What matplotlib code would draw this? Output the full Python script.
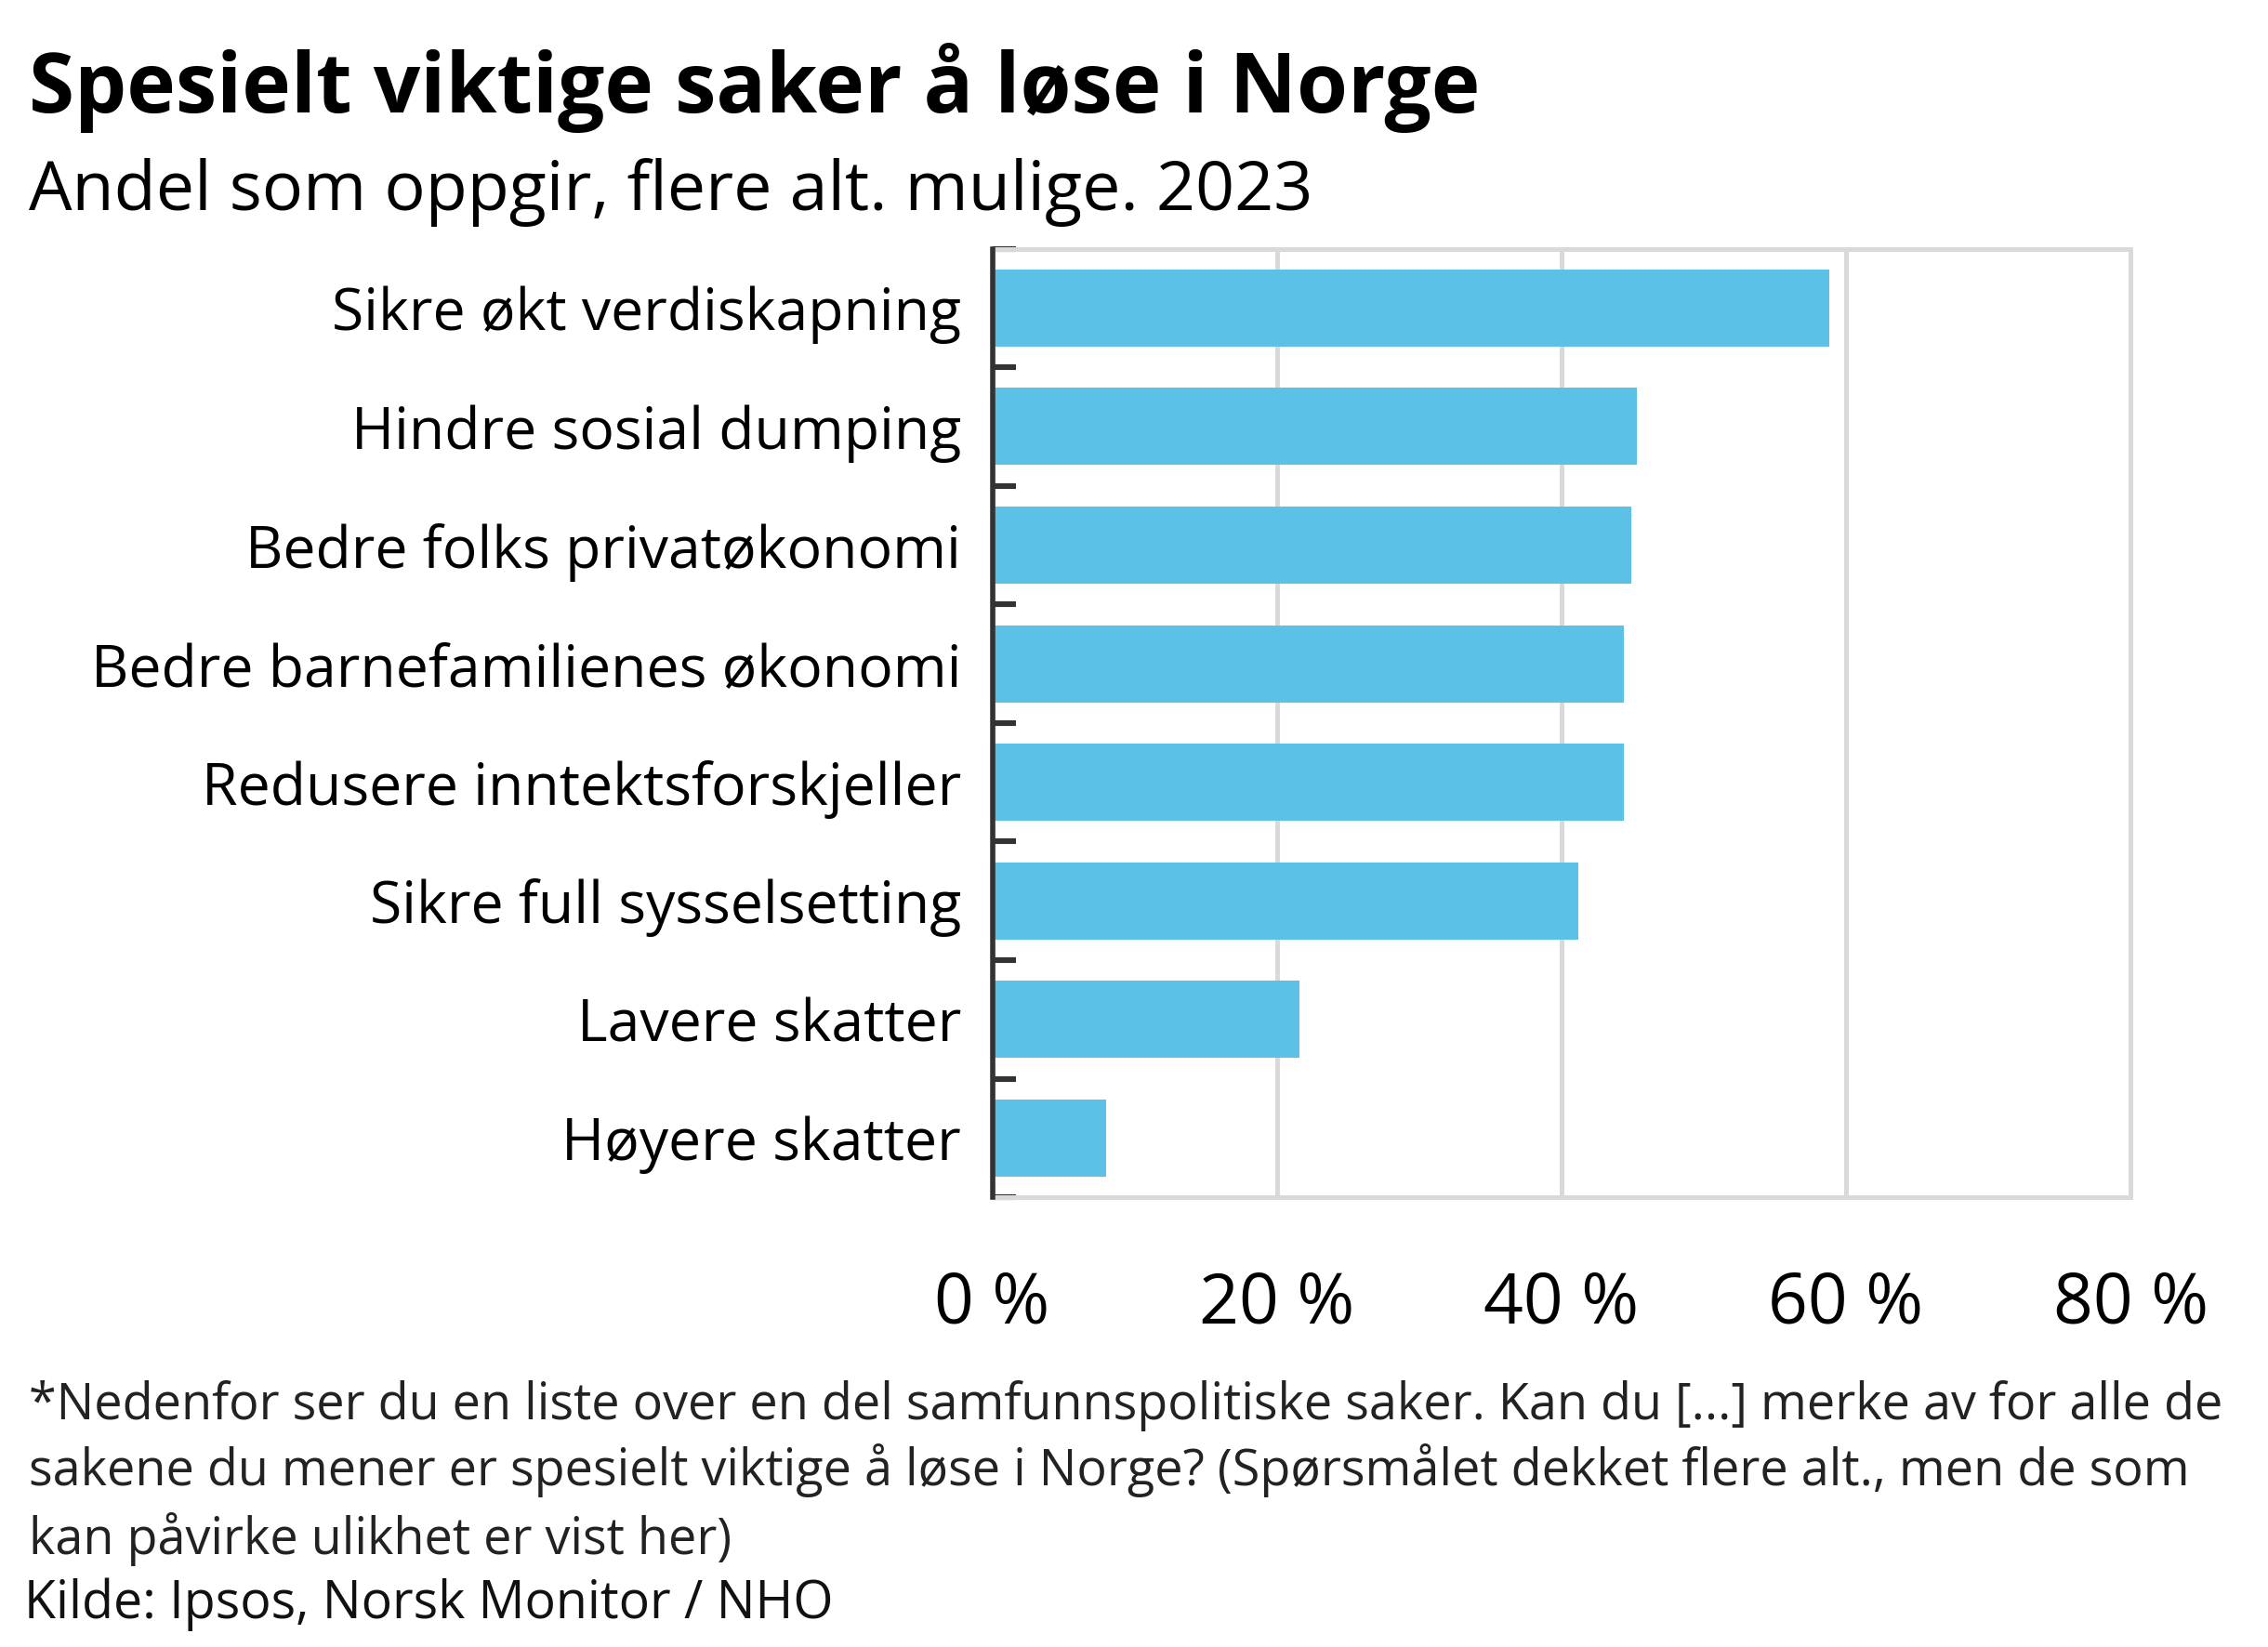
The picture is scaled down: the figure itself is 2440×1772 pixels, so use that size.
import matplotlib.pyplot as plt
import numpy as np

plt.rcParams['font.family'] = ['Open Sans', 'DejaVu Sans']

categories = [
    "Sikre økt verdiskapning",
    "Hindre sosial dumping",
    "Bedre folks privatøkonomi",
    "Bedre barnefamilienes økonomi",
    "Redusere inntektsforskjeller",
    "Sikre full sysselsetting",
    "Lavere skatter",
    "Høyere skatter",
]
values = [58.8, 45.3, 44.9, 44.4, 44.4, 41.2, 21.6, 8.0]
x_ticks = [0, 20, 40, 60, 80]
x_labels = ["0 %", "20 %", "40 %", "60 %", "80 %"]

title = "Spesielt viktige saker å løse i Norge"
subtitle = "Andel som oppgir, flere alt. mulige. 2023"
note_lines = [
    "*Nedenfor ser du en liste over en del samfunnspolitiske saker. Kan du [...] merke av for alle de",
    "sakene du mener er spesielt viktige å løse i Norge? (Spørsmålet dekket flere alt., men de som",
    "kan påvirke ulikhet er vist her)",
]
source = "Kilde: Ipsos, Norsk Monitor / NHO"

bar_color = "#5BC1E7"
grid_color = "#D9D9D9"
dark = "#333333"

fig = plt.figure(figsize=(12.2, 8.86), dpi=200)
ax = fig.add_axes([0.4375, 0.273, 0.5019, 0.576])

y = np.arange(len(categories))
ax.barh(y, values, height=0.65, color=bar_color, zorder=3)
ax.set_ylim(len(categories) - 0.5, -0.5)
ax.set_xlim(0, 80)

ax.set_xticks(x_ticks)
ax.set_xticklabels(x_labels, fontsize=27)
ax.tick_params(axis='x', length=0, pad=28)
ax.grid(axis='x', color=grid_color, linewidth=1.8, zorder=0)

ax.set_yticks(y)
ax.set_yticklabels(categories, fontsize=22.5)
ax.tick_params(axis='y', which='major', length=0, pad=12)
ax.set_yticks(np.arange(len(categories) + 1) - 0.5, minor=True)
ax.tick_params(axis='y', which='minor', direction='in', length=9, width=2.2, color=dark)

for side in ['top', 'right', 'bottom']:
    ax.spines[side].set_color(grid_color)
    ax.spines[side].set_linewidth(1.8)
ax.spines['left'].set_color(dark)
ax.spines['left'].set_linewidth(2.0)
ax.spines['left'].set_zorder(5)

fig.text(0.0128, 0.9315, title, fontsize=32, fontweight='bold', ha='left', va='baseline')
fig.text(0.0128, 0.8727, subtitle, fontsize=26.5, ha='left', va='baseline')

note_y = [0.138, 0.0983, 0.0562]
for line, yy in zip(note_lines, note_y):
    fig.text(0.0128, yy, line, fontsize=19.4, ha='left', va='baseline', color="#222222")
fig.text(0.0105, 0.0175, source, fontsize=20, ha='left', va='baseline', color="#111111")

fig.savefig("out.png", dpi=200)
